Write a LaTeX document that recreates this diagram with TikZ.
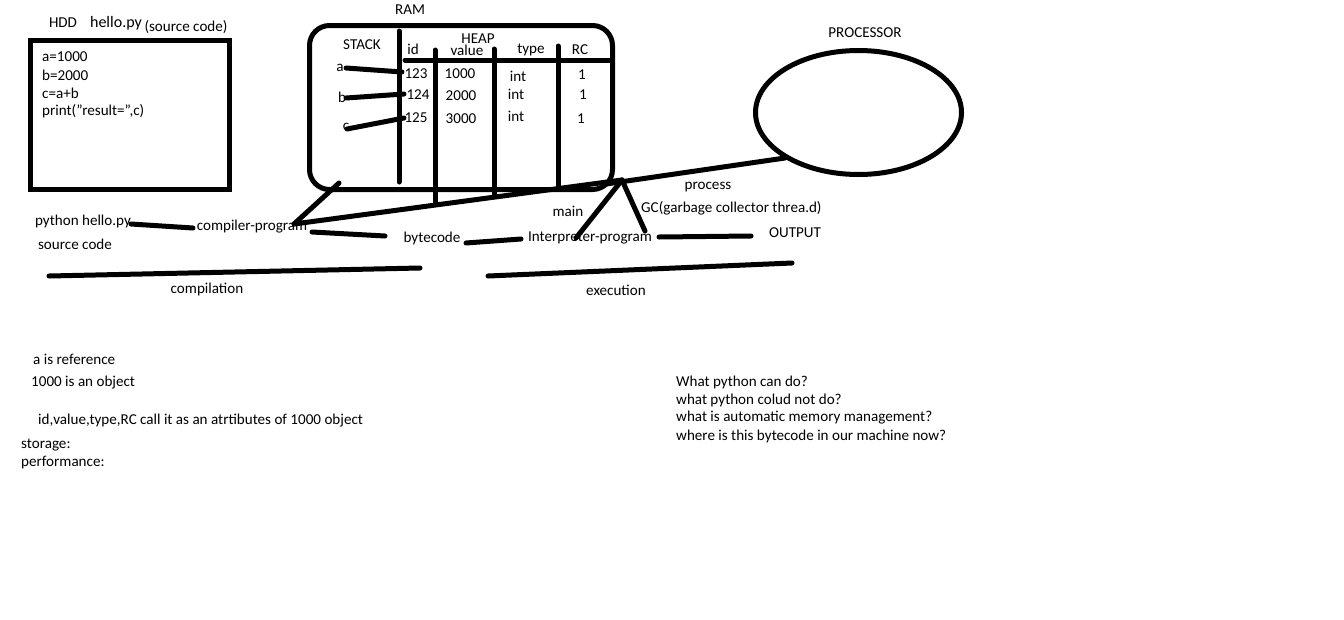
\documentclass[tikz,border=0pt]{standalone}
\usepackage{fontspec}
\setmainfont{Carlito}
\begin{document}
\begin{tikzpicture}[x=1pt,y=-1pt,
  every node/.style={inner sep=0pt, font=\fontsize{15.1}{17}\selectfont, text=black},
  lbl/.style={anchor=center},
  lft/.style={anchor=west},
  stroke/.style={line width=5pt, line cap=round},
  frame/.style={line width=5pt}]
\useasboundingbox[fill=white] (0,0) rectangle (1344,619);

% HDD
\node[lbl] (hdd) at (63,23) {HDD};
\node[lbl, font=\fontsize{16}{18}\selectfont] (hello) at (116,23) {hello.py};
\node[lbl] (src) at (186,27) {(source code)};
\draw[frame] (30,40) rectangle (229.5,189.5);
\node[lft] (l1) at (42,57) {a=1000};
\node[lft] (l2) at (42,75) {b=2000};
\node[lft] (l3) at (42,93) {c=a+b};
\node[lft] (l4) at (42,111) {print(\symbol{34}result=\symbol{34},c)};

% RAM
\node[lbl] (ram) at (410,10) {RAM};
\draw[frame, rounded corners=20pt] (309.5,25.5) rectangle (612.5,189.5);
\node[lbl] (stack) at (362,45) {STACK};
\node[lbl] (heap) at (478,39) {HEAP};
\node[lbl] (hid) at (413,49) {id};
\node[lbl] (hval) at (467,50) {value};
\node[lbl] (htype) at (531,50) {type};
\node[lbl] (hrc) at (580,50) {RC};
\draw[stroke] (399,31) -- (399,182);
\draw[stroke] (405,60) -- (612,60);
\draw[stroke] (435,50) -- (435,203);
\draw[stroke] (494,49) -- (494,194);
\draw[stroke] (558,46) -- (558,186);

\node[lbl] (va) at (340,68) {a};
\node[lbl] (vb) at (342,97) {b};
\node[lbl] (vc) at (346,127) {c};
\node[lbl] (i1) at (416,74) {123};
\node[lbl] (i2) at (418,95) {124};
\node[lbl] (i3) at (416,118) {125};
\node[lbl] (v1) at (460,74) {1000};
\node[lbl] (v2) at (461,96) {2000};
\node[lbl] (v3) at (461,119) {3000};
\node[lbl] (t1) at (518,76) {int};
\node[lbl] (t2) at (516,94) {int};
\node[lbl] (t3) at (516,116) {int};
\node[lbl] (r1) at (582,75) {1};
\node[lbl] (r2) at (583,95) {1};
\node[lbl] (r3) at (581,119) {1};
\coordinate (pa) at (346,68);
\coordinate (pb) at (346,98);
\coordinate (pc) at (347,129);
\coordinate (qa) at (402,72);
\coordinate (qb) at (404,94);
\coordinate (qc) at (404,118);
\draw[stroke] (pa) -- (qa);
\draw[stroke] (pb) -- (qb);
\draw[stroke] (pc) -- (qc);

% PROCESSOR
\node[lbl] (proclbl) at (865,33) {PROCESSOR};
\draw[frame] (858.5,112.5) ellipse [x radius=103, y radius=62];
\coordinate (procpt) at (785,158);

% flow
\node[lbl] (py) at (83,221) {python hello.py};
\node[lbl] (srcc) at (75,244) {source code};
\node[lbl] (comp) at (252,227) {compiler-program};
\node[lbl] (bc) at (432,238) {bytecode};
\node[lbl] (interp) at (590,238) {Interpreter-program};
\node[lbl] (out) at (795,233) {OUTPUT};
\node[lbl] (proc) at (708,187) {process};
\node[lbl] (main) at (568,211) {main};
\node[lft] (gc) at (641,208) {GC(garbage collector threa.d)};

\coordinate (apex) at (622,180);
\coordinate (cpl) at (294,224);
\coordinate (boxc) at (339,183);
\draw[stroke] (131,224) -- (193,228);
\draw[stroke] (boxc) -- (cpl);
\draw[stroke] (cpl) -- (apex);
\draw[stroke] (606,184) -- (procpt);
\draw[stroke] (312,232) -- (385,236);
\draw[stroke] (466,243) -- (521,239);
\draw[stroke] (659,237) -- (751,236);
\draw[stroke] (576,238) -- (apex);
\draw[stroke] (apex) -- (645,231);

\node[lbl] (compl) at (207,289) {compilation};
\node[lbl] (exec) at (616,290) {execution};
\draw[stroke] (49,276) -- (420,268);
\draw[stroke] (488,276) -- (792,263);

% notes
\node[lft] (n1) at (33,359) {a is reference};
\node[lft] (n2) at (31,383) {1000 is an object};
\node[lft] (n3) at (38,421) {id,value,type,RC call it as an atrtibutes of 1000 object};
\node[lft] (n4) at (21,445) {storage:};
\node[lft] (n5) at (21,463) {performance:};
\node[lft] (q1) at (676,382) {What python can do?};
\node[lft] (q2) at (676,400) {what python colud not do?};
\node[lft] (q3) at (676,418) {what is automatic memory management?};
\node[lft] (q4) at (676,436) {where is this bytecode in our machine now?};
\end{tikzpicture}
\end{document}
